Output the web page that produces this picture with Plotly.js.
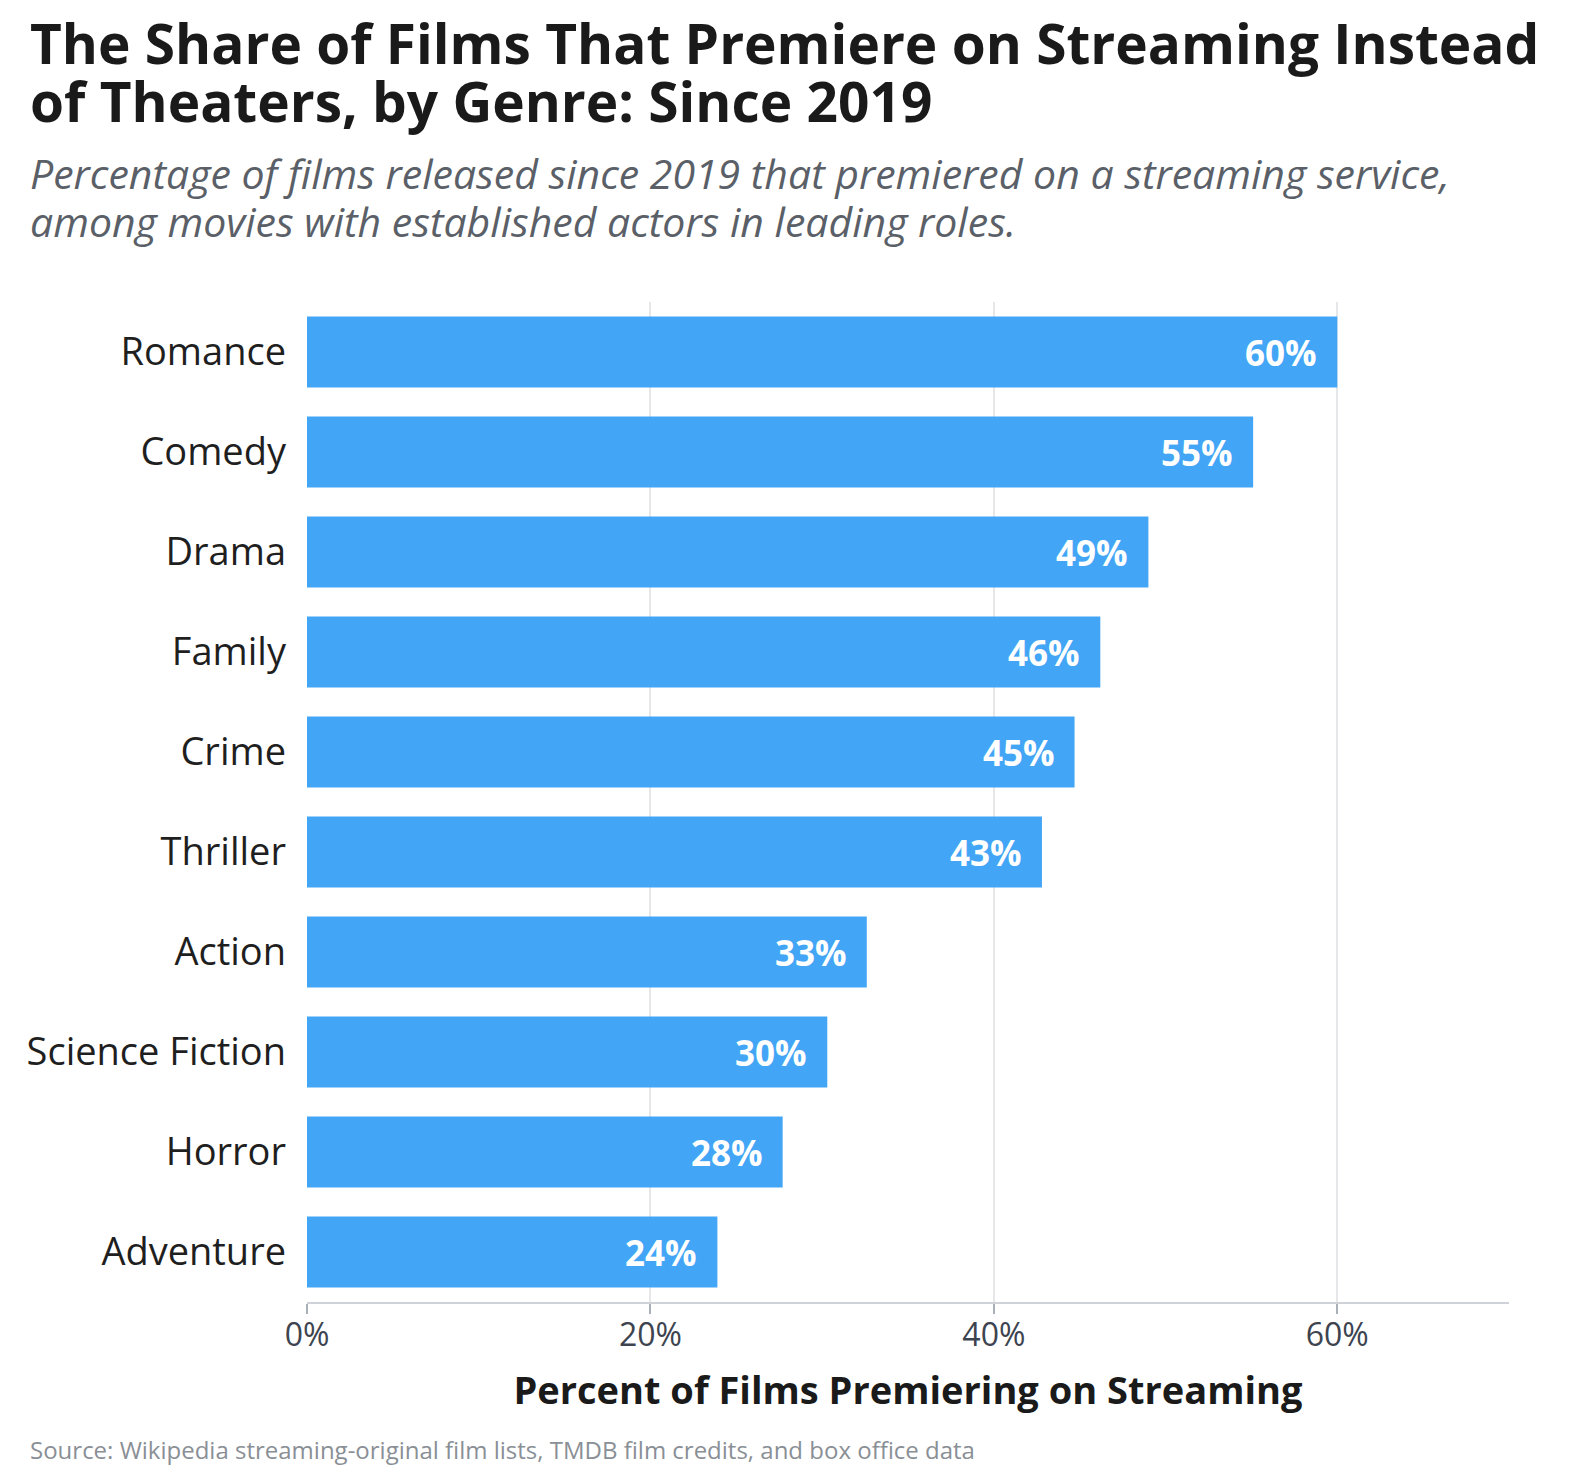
<!DOCTYPE html>
<html>
<head>
<meta charset="utf-8">
<script src="https://cdn.plot.ly/plotly-3.0.1.min.js"></script>
<style>
  html, body { margin: 0; padding: 0; background: #ffffff; }
  #grafica { width: 1588px; height: 1480px; }
</style>
</head>
<body>
<div id="grafica"></div>
<script>
// Géneros de abajo hacia arriba (Plotly dibuja la primera categoría abajo)
const generos = [
  'Adventure', 'Horror', 'Science Fiction', 'Action', 'Thriller',
  'Crime', 'Family', 'Drama', 'Comedy', 'Romance'
];
const porcentajes = [23.9, 27.7, 30.3, 32.6, 42.8, 44.7, 46.2, 49.0, 55.1, 60.0];
const etiquetas = ['24%', '28%', '30%', '33%', '43%', '45%', '46%', '49%', '55%', '60%'];

const ticksX = [0, 20, 40, 60];
const ticksXTexto = ['0%', '20%', '40%', '60%'];

const titulo = [
  'The Share of Films That Premiere on Streaming Instead',
  'of Theaters, by Genre: Since 2019'
];
const subtitulo = [
  'Percentage of films released since 2019 that premiered on a streaming service,',
  'among movies with established actors in leading roles.'
];
const fuenteDatos = 'Source: Wikipedia streaming-original film lists, TMDB film credits, and box office data';

const FUENTE = '"Open Sans", "Noto Sans", sans-serif';
const AZUL = '#42a5f5';

// Márgenes en píxeles para ubicar textos fuera del área de trazado
const M = { l: 307, r: 79, t: 302, b: 178 };
const ALTO = 1480;
const ANCHO = 1588;
const altoPlot = ALTO - M.t - M.b;
const anchoPlot = ANCHO - M.l - M.r;

function xPaper(px) { return (px - M.l) / anchoPlot; }
function yPaper(py) { return (ALTO - M.b - py) / altoPlot; }

function textoLibre(texto, px, py, fuente) {
  return {
    xref: 'paper', yref: 'paper',
    x: xPaper(px), y: yPaper(py),
    xanchor: 'left', yanchor: 'middle', align: 'left',
    showarrow: false,
    text: texto,
    font: fuente
  };
}

const traza = {
  type: 'bar',
  orientation: 'h',
  x: porcentajes,
  y: generos,
  marker: { color: AZUL },
  hoverinfo: 'skip'
};

const anotacionesBarras = generos.map((g, i) => ({
  x: porcentajes[i],
  y: g,
  xref: 'x',
  yref: 'y',
  text: etiquetas[i],
  showarrow: false,
  xanchor: 'right',
  yanchor: 'middle',
  xshift: -18,
  font: { family: FUENTE, size: 35, color: '#ffffff', weight: 700 }
}));

const fTitulo = { family: FUENTE, size: 55, color: '#1a1a1a', weight: 700 };
const fSub = { family: FUENTE, size: 41, color: '#5a5f68', style: 'italic' };
const fFuente = { family: FUENTE, size: 24, color: '#8a8f96' };

const layout = {
  width: ANCHO,
  height: ALTO,
  paper_bgcolor: '#ffffff',
  plot_bgcolor: '#ffffff',
  showlegend: false,
  bargap: 0.29,
  margin: M,
  font: { family: FUENTE, color: '#222222' },
  xaxis: {
    range: [0, 70],
    tickvals: ticksX,
    ticktext: ticksXTexto,
    tickfont: { family: FUENTE, size: 32, color: '#3d4450' },
    ticks: 'outside',
    ticklen: 10,
    tickwidth: 2,
    tickcolor: '#aab0b8',
    ticklabelstandoff: -6,
    showline: true,
    linecolor: '#cfd2d6',
    linewidth: 2,
    showgrid: true,
    gridcolor: '#e6e7e9',
    gridwidth: 2,
    zeroline: false,
    fixedrange: true,
    title: {
      text: 'Percent of Films Premiering on Streaming',
      font: { family: FUENTE, size: 38, color: '#1a1a1a', weight: 700 },
      standoff: 23
    }
  },
  yaxis: {
    categoryorder: 'array',
    categoryarray: generos,
    tickfont: { family: FUENTE, size: 38, color: '#1f1f1f' },
    ticks: '',
    ticklabelstandoff: 20,
    showline: false,
    showgrid: false,
    zeroline: false,
    fixedrange: true
  },
  annotations: [
    textoLibre(titulo[0], 28, 42, fTitulo),
    textoLibre(titulo[1], 28, 101, fTitulo),
    textoLibre(subtitulo[0], 28, 173, fSub),
    textoLibre(subtitulo[1], 28, 221, fSub),
    textoLibre(fuenteDatos, 28, 1449, fFuente),
    ...anotacionesBarras
  ]
};

Plotly.newPlot('grafica', [traza], layout, { displayModeBar: false, responsive: false });
</script>
</body>
</html>
